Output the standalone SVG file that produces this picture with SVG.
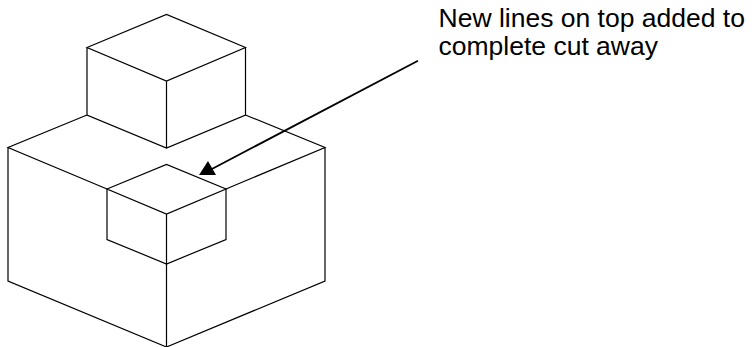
<svg xmlns="http://www.w3.org/2000/svg" width="752" height="347" viewBox="0 0 752 347">
<style>
.l{fill:none;stroke:#000;stroke-width:1.200;stroke-linejoin:miter}
text{font-family:"Liberation Sans",Arial,sans-serif;font-size:26.5px;fill:#000}
</style>
<rect width="752" height="347" fill="#fff"/>
<g id="upper-block">
<path class="l" d="M87 47.500L166.500 14.500L245.500 47.500L166.500 81ZM87 47.500V115L166.500 148L245.500 115V47.500M166.500 81V148"/>
</g>
<g id="lower-block">
<path class="l" d="M87 115L8 147.500L107 189M245.500 115L325 147.500L226 189M8 147.500V281L166.500 347L325 281V147.500M166.500 264V347"/>
</g>
<g id="cut-away">
<path class="l" d="M107 189L166.500 164.500L226 189L166.500 214ZM107 189V239.500L166.500 264L226 239.500V189M166.500 214V264"/>
</g>
<g id="connectors">
<line x1="418" y1="60.700" x2="210" y2="170" stroke="#000" stroke-width="1.800"/>
<polygon points="208,161 199,175 216,175" fill="#000"/>
</g>
<g id="label">
<text x="438.500" y="27">New lines on top added to</text>
<text x="438.500" y="55">complete cut away</text>
</g>
</svg>
